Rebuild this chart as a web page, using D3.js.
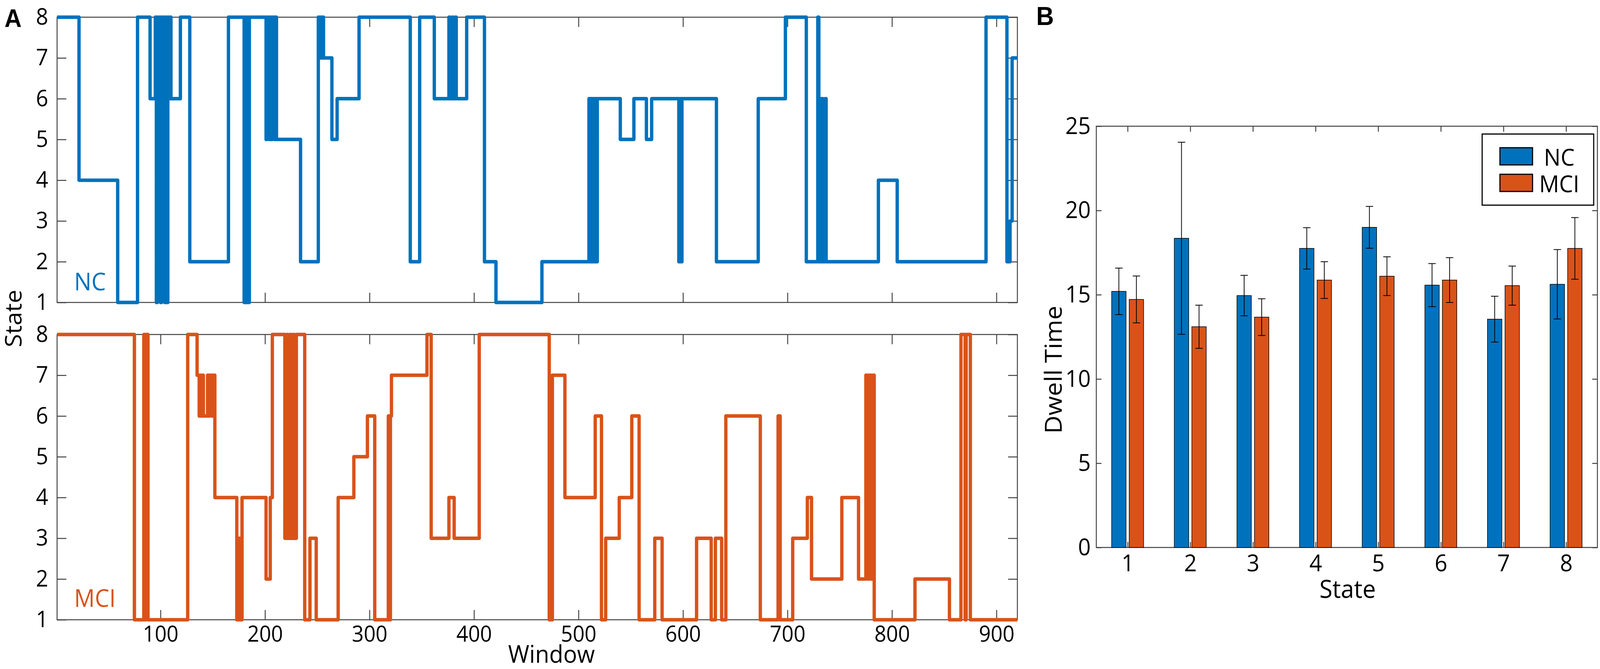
<!DOCTYPE html>
<html>
<head>
<meta charset="utf-8">
<script src="https://cdn.jsdelivr.net/npm/d3@7"></script>
<style>
  html, body { margin: 0; padding: 0; overflow: hidden; background: #fff; }
  #chart svg { display: block; width: 100vw; height: 100vh; }
</style>
</head>
<body>
<div id="chart"></div>
<script>
// Panel A: state sequences, stored as [window where the state starts, state]
const ncSteps = [[1,8],[22,4],[59,1],[78,8],[90,6],[95,8],[96,1],[97,8],[98,6],[99,8],[100,1],[101,8],
  [102,6],[103,8],[104,1],[105,8],[106,1],[107,8],[108,6],[109,8],[110,6],[119,8],[128,2],[165,8],
  [180,1],[181,8],[182,1],[183,8],[184,1],[185,8],[201,5],[202,8],[204,5],[205,8],[206,5],[207,8],
  [209,5],[210,8],[211,5],[234,2],[251,8],[252,7],[253,8],[254,7],[255,8],[256,7],[264,5],[269,6],
  [290,8],[339,2],[348,8],[362,6],[376,8],[377,6],[379,8],[380,6],[382,8],[383,6],[393,8],[410,2],
  [421,1],[465,2],[510,6],[511,2],[512,6],[513,2],[514,6],[515,2],[516,6],[517,2],[518,6],[540,5],
  [553,6],[565,5],[570,6],[596,2],[597,6],[598,2],[599,6],[632,2],[672,6],[698,8],[718,2],[729,8],
  [730,2],[731,6],[732,2],[733,6],[734,2],[736,6],[737,2],[787,4],[805,2],[890,8],[910,2],[913,3],
  [915,7]];

const mciSteps = [[1,8],[75,1],[84,8],[85,1],[86,8],[88,1],[126,8],[135,7],[137,6],[138,7],[139,6],
  [140,7],[141,6],[145,7],[146,6],[147,7],[149,6],[150,7],[152,4],[173,1],[175,3],[176,1],[178,4],
  [201,2],[205,4],[207,8],[219,3],[221,8],[222,3],[224,8],[225,3],[227,8],[228,3],[230,8],[238,1],
  [243,3],[249,1],[270,4],[285,5],[298,6],[305,1],[318,6],[319,1],[320,6],[321,7],[355,8],[359,3],
  [376,4],[381,3],[405,8],[472,1],[475,7],[487,4],[516,6],[522,1],[526,3],[539,4],[551,6],[558,1],
  [573,3],[580,1],[613,3],[627,1],[631,3],[637,1],[641,6],[674,1],[691,6],[693,1],[705,3],[719,4],
  [723,2],[752,4],[768,2],[775,7],[777,2],[778,7],[780,2],[781,7],[783,1],[822,2],[855,1],[866,8],
  [870,1],[871,8],[875,1]];

const lastWindow = 920;
const windowTicks = [100, 200, 300, 400, 500, 600, 700, 800, 900];
const stateTicks = [1, 2, 3, 4, 5, 6, 7, 8];

// Panel B: mean dwell time and error per state
const states = [1, 2, 3, 4, 5, 6, 7, 8];
const ncDwell  = [15.2, 18.35, 14.95, 17.75, 19.0, 15.57, 13.55, 15.62];
const ncErr    = [1.38, 5.7, 1.2, 1.23, 1.24, 1.28, 1.36, 2.06];
const mciDwell = [14.72, 13.1, 13.67, 15.87, 16.1, 15.87, 15.54, 17.75];
const mciErr   = [1.39, 1.28, 1.09, 1.09, 1.15, 1.33, 1.16, 1.83];
const dwellTicks = [0, 5, 10, 15, 20, 25];

const W = 4317, H = 1712;
const blue = "#0072BD", orange = "#D95319", axisColor = "#404040";
const font = "'Open Sans', sans-serif";

const svg = d3.select("#chart")
    .append("svg")
    .attr("viewBox", [0, 0, W, H])
    .attr("preserveAspectRatio", "none");

function styleAxis(g, size) {
    g.select(".domain").remove();
    g.attr("font-family", font).attr("font-size", size);
    g.selectAll(".tick line").attr("stroke", axisColor).attr("stroke-width", 2.5);
    g.selectAll(".tick text").attr("fill", "#000");
}

// ---------- Panel A ----------
const xA = d3.scaleLinear().domain([1, lastWindow]).range([154, 2745]);

function statePanel(top, bottom, steps, color, name, nameY, showX) {
    const y = d3.scaleLinear().domain([1, 8]).range([bottom, top]);
    const g = svg.append("g");

    g.append("rect")
        .attr("x", xA.range()[0]).attr("y", top)
        .attr("width", xA.range()[1] - xA.range()[0]).attr("height", bottom - top)
        .attr("fill", "none").attr("stroke", axisColor).attr("stroke-width", 2.5);

    g.append("g")
        .attr("transform", `translate(0,${bottom})`)
        .call(d3.axisBottom(xA).tickValues(windowTicks).tickSize(-25).tickPadding(16)
            .tickFormat(showX ? d3.format("d") : ""))
        .call(a => styleAxis(a, 56));
    g.append("g")
        .attr("transform", `translate(0,${top})`)
        .call(d3.axisTop(xA).tickValues(windowTicks).tickSize(-25).tickFormat(""))
        .call(a => styleAxis(a, 56));
    g.append("g")
        .attr("transform", `translate(${xA.range()[0]},0)`)
        .call(d3.axisLeft(y).tickValues(stateTicks).tickSize(-25).tickPadding(24).tickFormat(d3.format("d")))
        .call(a => styleAxis(a, 58));
    g.append("g")
        .attr("transform", `translate(${xA.range()[1]},0)`)
        .call(d3.axisRight(y).tickValues(stateTicks).tickSize(-25).tickFormat(""))
        .call(a => styleAxis(a, 58));

    const pts = steps.concat([[lastWindow, steps[steps.length - 1][1]]]);
    g.append("path")
        .datum(pts)
        .attr("fill", "none")
        .attr("stroke", color)
        .attr("stroke-width", 9)
        .attr("stroke-linejoin", "round")
        .attr("d", d3.line().x(d => xA(d[0])).y(d => y(d[1])).curve(d3.curveStepAfter));

    g.append("text")
        .attr("x", 200).attr("y", nameY)
        .attr("font-family", font).attr("font-size", 62)
        .attr("fill", color)
        .text(name);
}

statePanel(44, 774, ncSteps, blue, "NC", 743, false);
statePanel(856, 1586, mciSteps, orange, "MCI", 1553, true);

svg.append("text")
    .attr("transform", "translate(58,815) rotate(-90)")
    .attr("text-anchor", "middle")
    .attr("font-family", font).attr("font-size", 62)
    .text("State");

svg.append("text")
    .attr("x", 1488).attr("y", 1696)
    .attr("text-anchor", "middle")
    .attr("font-family", font).attr("font-size", 62)
    .text("Window");

svg.append("text")
    .attr("x", 12).attr("y", 69)
    .attr("font-family", "'Liberation Sans', Arial, sans-serif")
    .attr("font-weight", "bold").attr("font-size", 64)
    .text("A");

// ---------- Panel B ----------
const xB = d3.scaleLinear().domain([0.5, 8.5]).range([2958, 4310]);
const yB = d3.scaleLinear().domain([0, 25]).range([1401, 323]);
const gb = svg.append("g");

gb.append("rect")
    .attr("x", xB.range()[0]).attr("y", yB.range()[1])
    .attr("width", xB.range()[1] - xB.range()[0]).attr("height", yB.range()[0] - yB.range()[1])
    .attr("fill", "none").attr("stroke", axisColor).attr("stroke-width", 2.5);

gb.append("g")
    .attr("transform", `translate(0,${yB.range()[0]})`)
    .call(d3.axisBottom(xB).tickValues(states).tickSize(-14).tickPadding(18).tickFormat(d3.format("d")))
    .call(a => styleAxis(a, 60));
gb.append("g")
    .attr("transform", `translate(0,${yB.range()[1]})`)
    .call(d3.axisTop(xB).tickValues(states).tickSize(-14).tickFormat(""))
    .call(a => styleAxis(a, 60));
gb.append("g")
    .attr("transform", `translate(${xB.range()[0]},0)`)
    .call(d3.axisLeft(yB).tickValues(dwellTicks).tickSize(-14).tickPadding(15))
    .call(a => styleAxis(a, 60));
gb.append("g")
    .attr("transform", `translate(${xB.range()[1]},0)`)
    .call(d3.axisRight(yB).tickValues(dwellTicks).tickSize(-14).tickFormat(""))
    .call(a => styleAxis(a, 60));

const groups = [
    { name: "NC", color: blue, mean: ncDwell, err: ncErr, offset: -0.14 },
    { name: "MCI", color: orange, mean: mciDwell, err: mciErr, offset: 0.14 }
];
const barW = xB(0.23) - xB(0);

for (const grp of groups) {
    const rows = states.map((s, i) => ({ s, m: grp.mean[i], e: grp.err[i] }));
    gb.append("g")
        .selectAll("rect")
        .data(rows)
        .join("rect")
        .attr("x", d => xB(d.s + grp.offset) - barW / 2)
        .attr("y", d => yB(d.m))
        .attr("width", barW)
        .attr("height", d => yB(0) - yB(d.m))
        .attr("fill", grp.color)
        .attr("stroke", "#000")
        .attr("stroke-width", 1.5);

    const eb = gb.append("g")
        .attr("stroke", "#000")
        .attr("stroke-width", 2)
        .selectAll("g")
        .data(rows)
        .join("g");
    eb.append("line")
        .attr("x1", d => xB(d.s + grp.offset)).attr("x2", d => xB(d.s + grp.offset))
        .attr("y1", d => yB(d.m - d.e)).attr("y2", d => yB(d.m + d.e));
    eb.append("line")
        .attr("x1", d => xB(d.s + grp.offset) - 10).attr("x2", d => xB(d.s + grp.offset) + 10)
        .attr("y1", d => yB(d.m + d.e)).attr("y2", d => yB(d.m + d.e));
    eb.append("line")
        .attr("x1", d => xB(d.s + grp.offset) - 10).attr("x2", d => xB(d.s + grp.offset) + 10)
        .attr("y1", d => yB(d.m - d.e)).attr("y2", d => yB(d.m - d.e));
}

// legend
const lg = gb.append("g");
lg.append("rect")
    .attr("x", 3999).attr("y", 343).attr("width", 301).attr("height", 182)
    .attr("fill", "#fff").attr("stroke", "#000").attr("stroke-width", 3);
groups.forEach((grp, i) => {
    const cy = 400 + i * 68;
    lg.append("rect")
        .attr("x", 4047).attr("y", cy - 22).attr("width", 88).attr("height", 44)
        .attr("fill", grp.color).attr("stroke", "#000").attr("stroke-width", 3);
    lg.append("text")
        .attr("x", 4207).attr("y", cy)
        .attr("text-anchor", "middle").attr("dominant-baseline", "central")
        .attr("font-family", font).attr("font-size", 60)
        .text(grp.name);
});

gb.append("text")
    .attr("transform", "translate(2840,946) rotate(-90)")
    .attr("text-anchor", "middle").attr("dominant-baseline", "central")
    .attr("font-family", font).attr("font-size", 64)
    .text("Dwell Time");

gb.append("text")
    .attr("x", 3636).attr("y", 1530)
    .attr("text-anchor", "middle")
    .attr("font-family", font).attr("font-size", 64)
    .text("State");

svg.append("text")
    .attr("x", 2796).attr("y", 64)
    .attr("font-family", "'Liberation Sans', Arial, sans-serif")
    .attr("font-weight", "bold").attr("font-size", 66)
    .text("B");
</script>
</body>
</html>
